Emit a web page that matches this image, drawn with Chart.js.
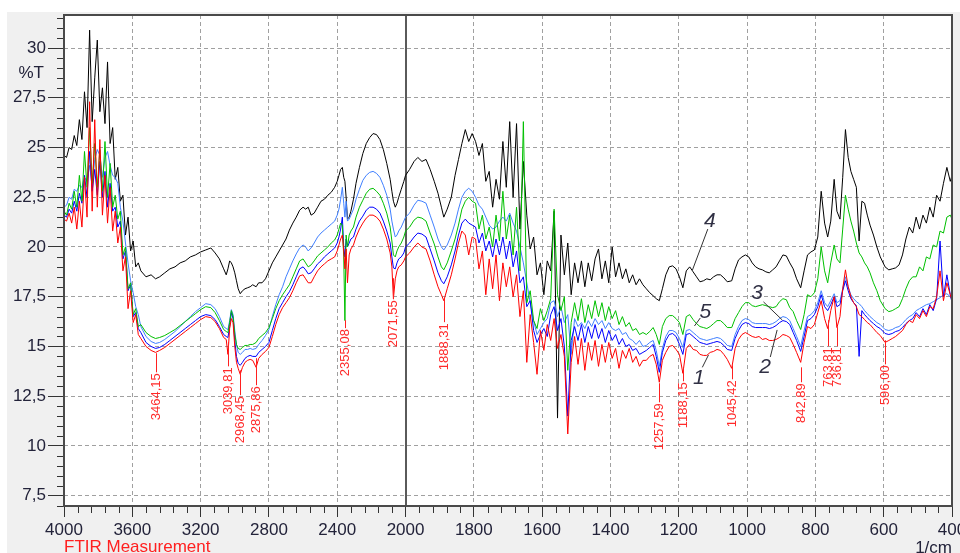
<!DOCTYPE html>
<html>
<head>
<meta charset="utf-8">
<script src="https://cdn.jsdelivr.net/npm/chart.js@4.4.0/dist/chart.umd.min.js"></script>
<style>
  html, body { margin: 0; padding: 0; background: #fff; }
  #wrap { width: 960px; height: 553px; }
</style>
</head>
<body>
<div id="wrap"><canvas id="ftir" width="960" height="553"></canvas></div>
<script>
// wavenumbers, 1/cm (shared by all five spectra)
const wavenumbers = [
  // 4000 - 3565
  4000,3985,3970,3955,3940,3925,3910,3895,3880,3865,
  3850,3835,3820,3805,3790,3775,3760,3745,3730,3715,
  3700,3685,3670,3655,3640,3625,3610,3595,3580,3565,
  // 3550 - 2000
  3550,3520,3490,3464,3440,3410,3380,3350,3320,3290,
  3260,3230,3200,3170,3140,3115,3090,3065,3050,3040,
  3030,3020,3010,3000,2990,2980,2968,2955,2940,2925,
  2910,2895,2875,2860,2840,2820,2800,2780,2760,2740,
  2720,2700,2680,2660,2640,2620,2600,2585,2570,2553,
  2535,2515,2495,2475,2455,2435,2415,2400,2390,2380,
  2370,2362,2355,2348,2340,2330,2320,2305,2290,2270,
  2250,2230,2210,2190,2170,2150,2130,2110,2090,2080,
  2071,2060,2050,2040,2025,2010,2000,
  // 1988 - 1805
  1988,1975,1964,1952,1940,1928,1916,1905,1895,1888,
  1878,1866,1855,1845,1835,1825,1815,1805,
  // 1795 - 1305
  1795,1785,1775,1765,1755,1745,1735,1725,1715,1705,
  1695,1685,1675,1665,1655,1645,1635,1625,1615,1605,
  1595,1585,1575,1565,1555,1545,1535,1525,1515,1505,
  1495,1485,1475,1465,1455,1445,1435,1425,1415,1405,
  1395,1385,1375,1365,1355,1345,1335,1325,1315,1305,
  // 1295 - 400
  1295,1285,1275,1266,1257,1248,1238,1228,1218,1208,
  1198,1188,1178,1168,1158,1148,1138,1128,1118,1108,
  1098,1088,1078,1068,1058,1045,1035,1025,1015,1005,
  995,985,975,965,955,945,935,925,915,905,
  895,885,875,865,855,843,833,823,813,803,
  793,783,773,764,755,745,737,728,720,712,
  704,696,688,680,672,664,656,648,640,630,
  620,610,596,585,575,565,555,545,535,525,
  515,505,495,485,475,465,455,445,435,425,
  415,405,400
];

// spectrum 1 (red), %T
const red1 = [
  21.4,21.3,21.7,21.2,22.0,20.9,22.3,21.0,23.5,21.5,
  27.3,21.8,26.4,22.0,25.4,21.6,23.6,21.2,23.0,20.8,
  21.8,20.2,21.0,18.8,19.5,16.9,17.8,16.2,16.6,15.6,

  15.4,15.0,14.8,14.7,14.8,14.95,15.15,15.35,15.55,15.75,
  15.95,16.15,16.35,16.5,16.45,16.25,15.9,15.45,15.35,14.6,
  15.9,16.4,16.2,15.0,14.2,13.9,13.6,13.95,14.2,14.3,
  14.35,14.3,13.95,14.4,14.6,14.75,14.95,15.5,16.1,16.6,
  16.95,17.2,17.45,17.8,18.2,18.55,18.6,18.4,18.2,18.2,
  18.5,18.8,19.0,19.15,19.3,19.4,19.5,19.8,20.1,20.4,
  20.6,19.8,18.9,19.9,18.2,19.6,19.9,20.1,20.5,20.9,
  21.2,21.45,21.6,21.6,21.5,21.3,20.9,20.4,19.7,19.0,
  17.4,18.4,18.8,19.0,19.1,19.3,19.5,

  19.7,20.0,20.2,20.0,19.9,19.3,18.6,18.0,17.6,17.3,
  17.9,18.6,19.4,20.2,20.8,20.6,19.6,20.5,

  20.4,18.9,19.8,17.6,19.4,17.9,19.6,17.3,19.2,18.0,
  19.0,17.5,18.6,16.5,17.8,14.2,16.6,15.2,13.6,15.8,
  14.8,16.1,15.3,16.4,14.9,15.6,14.5,10.6,14.2,15.5,
  14.1,15.4,13.8,15.2,14.3,15.3,14.0,15.1,14.2,15.2,
  14.4,14.9,13.9,14.8,14.4,14.9,14.2,14.5,14.0,14.3,

  14.3,14.5,14.6,14.1,13.2,14.3,14.7,15.0,15.05,14.85,
  14.6,13.65,14.9,15.1,14.85,14.8,14.6,14.55,14.55,14.7,
  14.75,14.85,14.8,14.6,14.35,13.9,14.9,15.35,15.6,15.7,
  15.6,15.5,15.45,15.5,15.35,15.4,15.3,15.3,15.35,15.45,
  15.6,15.55,15.45,15.1,14.7,14.2,15.2,16.0,15.9,16.1,
  16.7,17.3,16.4,15.9,16.8,17.5,15.95,16.5,17.9,18.85,
  18.0,17.5,17.2,17.0,16.6,16.5,16.35,16.2,16.1,15.9,
  15.7,15.55,15.2,15.3,15.4,15.5,15.65,15.8,16.1,16.3,
  16.2,16.6,16.4,16.8,16.5,17.0,16.9,17.5,18.8,17.3,
  18.2,17.6,17.3
];

// spectrum 2 (blue)
const blue2 = [
  21.6,21.5,21.9,21.7,22.3,21.8,22.7,22.2,23.6,22.5,
  24.8,22.8,23.9,22.6,24.3,22.5,23.8,22.0,23.2,21.8,
  22.0,21.0,21.3,19.4,19.8,17.8,18.1,16.5,16.7,15.9,

  15.7,15.2,15.0,14.9,14.95,15.1,15.3,15.5,15.7,15.9,
  16.1,16.3,16.5,16.6,16.55,16.35,16.0,15.6,15.5,15.45,
  16.0,16.7,16.4,15.3,14.5,14.15,14.05,14.2,14.4,14.5,
  14.55,14.5,14.5,14.7,14.85,15.0,15.2,15.8,16.4,16.9,
  17.2,17.5,17.75,18.1,18.5,18.9,19.0,18.85,18.65,18.7,
  18.9,19.15,19.3,19.5,19.65,19.8,19.95,20.2,20.5,20.9,
  21.5,20.0,19.5,20.4,20.0,20.2,20.4,20.5,20.9,21.3,
  21.55,21.85,22.0,22.0,21.9,21.7,21.3,20.8,20.2,19.5,
  18.95,18.9,19.2,19.4,19.5,19.7,20.0,

  20.2,20.5,20.7,20.65,20.5,19.9,19.3,18.7,18.3,18.15,
  18.5,19.1,19.8,20.6,21.2,21.4,21.2,21.1,

  21.0,20.2,20.7,19.8,20.3,19.5,20.4,19.6,20.5,19.4,
  20.3,19.0,19.8,18.2,18.5,17.0,17.3,15.8,15.2,15.6,
  15.9,15.5,16.6,17.0,15.8,16.4,15.0,11.5,15.3,16.0,
  15.3,16.1,15.2,16.0,15.4,16.1,15.4,15.9,15.2,15.8,
  15.3,15.6,15.1,15.4,15.0,15.1,14.8,14.9,14.6,14.7,

  14.8,14.95,15.1,14.5,13.7,14.7,15.3,15.6,15.65,15.5,
  15.1,14.6,15.6,15.65,15.5,15.35,15.2,15.15,15.1,15.15,
  15.2,15.25,15.2,15.05,14.85,14.8,15.4,15.8,16.1,16.2,
  16.15,16.0,15.95,15.95,15.95,15.95,15.9,15.95,16.05,16.2,
  16.3,16.25,16.1,15.7,15.3,14.75,15.5,16.3,16.4,16.6,
  17.0,17.6,17.0,16.8,17.1,17.5,17.0,17.1,17.8,18.3,
  17.8,17.4,17.2,17.05,14.5,16.8,16.6,16.45,16.3,16.15,
  16.0,15.9,15.65,15.6,15.65,15.75,15.8,15.95,16.15,16.3,
  16.4,16.7,16.5,16.9,16.6,17.1,16.8,17.4,20.3,17.5,
  18.6,17.6,17.2
];

// spectrum 3 (light blue)
const lightBlue3 = [
  22.0,22.1,22.5,22.4,22.9,22.8,23.1,23.0,23.5,23.3,
  24.1,23.0,24.4,24.9,24.6,23.5,24.5,24.8,24.1,23.6,
  23.5,23.2,22.0,21.3,20.2,19.2,18.3,17.7,17.0,16.6,

  16.0,15.5,15.25,15.15,15.2,15.35,15.55,15.75,16.0,16.25,
  16.5,16.75,16.95,17.15,17.1,16.9,16.5,16.0,15.9,15.85,
  16.3,16.85,16.6,15.8,15.1,14.7,14.6,14.7,14.85,14.85,
  14.9,14.85,14.9,15.1,15.3,15.55,15.85,16.5,17.1,17.6,
  18.0,18.5,18.9,19.3,19.65,19.95,20.1,20.0,19.8,19.95,
  20.2,20.5,20.7,20.85,21.0,21.15,21.3,21.6,21.9,22.4,
  23.0,22.2,21.5,22.3,21.3,21.4,21.6,21.9,22.4,22.9,
  23.35,23.6,23.75,23.8,23.7,23.5,23.1,22.6,21.9,21.3,
  20.9,20.5,20.6,20.8,21.0,21.3,21.5,

  21.7,22.1,22.35,22.3,22.2,21.6,21.0,20.4,20.0,19.85,
  20.1,20.6,21.2,21.9,22.5,22.8,22.95,22.8,

  22.5,22.1,21.9,21.5,21.1,20.9,21.0,21.3,21.5,21.3,
  21.7,21.2,20.8,20.0,19.2,18.2,17.2,16.3,15.6,15.9,
  16.2,16.4,17.2,17.3,16.5,17.0,16.2,16.6,14.6,16.4,
  16.0,16.2,15.9,16.3,16.0,16.4,16.1,16.3,15.9,16.2,
  15.9,15.8,15.9,15.6,15.7,15.4,15.3,15.1,15.3,15.0,

  15.05,15.2,15.3,14.8,14.0,14.9,15.5,15.8,15.8,15.7,
  15.4,14.95,15.8,15.85,15.7,15.55,15.4,15.35,15.3,15.35,
  15.4,15.45,15.4,15.25,15.05,15.0,15.6,16.0,16.3,16.4,
  16.35,16.2,16.15,16.15,16.15,16.15,16.1,16.15,16.25,16.4,
  16.5,16.45,16.3,15.9,15.5,15.0,15.8,16.5,16.6,16.8,
  17.2,17.8,17.2,17.0,17.3,17.65,17.2,17.3,17.9,18.5,
  18.0,17.6,17.4,17.25,17.15,17.0,16.8,16.65,16.5,16.35,
  16.2,16.1,15.85,15.8,15.85,15.95,16.0,16.15,16.35,16.5,
  16.6,16.8,16.9,17.0,17.1,17.15,17.25,17.35,17.45,17.6,
  17.65,17.5,17.4
];

// spectrum 4 (black)
const black4 = [
  24.6,24.5,25.0,24.9,25.6,25.1,26.4,25.4,27.8,26.0,
  30.9,26.3,28.5,30.4,26.8,28.0,26.2,29.3,25.2,26.0,
  23.4,24.0,22.3,22.6,20.6,21.5,19.8,20.3,19.0,19.2,

  18.8,18.5,18.6,18.4,18.5,18.7,18.9,19.0,19.2,19.3,
  19.5,19.6,19.75,19.85,19.95,19.7,19.4,18.9,18.6,18.9,
  19.3,19.2,19.0,18.7,18.3,17.9,17.65,17.8,17.9,17.95,
  18.0,18.1,18.0,18.2,18.2,18.4,18.8,19.2,19.5,19.8,
  20.1,20.4,20.85,21.2,21.5,21.85,22.0,21.9,22.0,21.6,
  21.7,22.0,22.3,22.4,22.6,22.75,23.0,23.3,23.6,23.9,
  24.0,23.5,23.3,22.5,21.4,21.5,21.8,22.4,23.2,24.0,
  24.7,25.2,25.5,25.7,25.65,25.4,24.9,24.2,23.4,22.8,
  22.3,22.0,22.2,22.5,22.9,23.3,23.6,

  23.9,24.3,24.5,24.3,24.4,23.9,23.3,22.7,22.0,21.5,
  21.9,22.5,23.6,24.4,25.2,25.9,25.3,25.7,

  25.3,24.6,25.2,23.3,23.8,22.0,23.4,22.4,25.3,23.0,
  26.3,22.5,26.2,20.9,24.3,21.6,19.9,20.5,18.6,19.2,
  17.6,19.3,18.8,21.8,11.4,20.6,18.6,20.2,17.6,19.2,
  18.2,19.3,18.0,19.2,18.3,19.4,19.9,18.4,19.3,18.2,
  20.0,18.5,19.2,18.4,18.9,18.2,18.6,18.1,18.4,18.1,

  17.9,17.7,17.55,17.4,17.3,17.9,18.6,19.0,19.05,18.9,
  18.5,17.95,18.8,19.0,18.75,18.5,18.25,18.3,18.4,18.35,
  18.5,18.6,18.6,18.45,18.25,18.3,18.9,19.35,19.5,19.6,
  19.5,19.2,19.0,18.9,18.85,18.75,18.7,18.85,19.0,19.3,
  19.6,19.55,19.2,18.9,18.4,17.95,18.8,19.6,19.75,19.85,
  20.5,22.8,21.2,20.5,21.3,23.4,21.8,21.4,23.5,25.9,
  24.5,23.8,23.4,23.0,20.3,22.3,22.2,21.6,21.1,20.6,
  20.0,19.5,19.0,18.85,18.9,18.95,19.1,19.6,20.4,21.0,
  20.7,21.5,20.9,21.6,21.2,22.0,21.5,22.6,22.3,23.2,
  24.0,23.3,23.6
];

// spectrum 5 (green)
const green5 = [
  21.8,21.6,22.2,21.9,22.8,22.0,23.6,22.3,24.8,23.0,
  26.0,23.2,25.2,23.0,24.9,22.8,25.3,22.5,24.2,22.0,
  22.6,21.4,21.8,19.6,20.0,17.9,18.2,16.6,16.9,16.0,

  16.1,15.7,15.5,15.4,15.45,15.55,15.7,15.85,16.05,16.25,
  16.45,16.65,16.85,17.0,16.95,16.7,16.3,15.85,15.75,15.7,
  16.2,16.8,16.5,15.6,15.1,14.9,14.85,14.95,15.05,15.05,
  15.1,15.1,15.2,15.4,15.55,15.7,15.95,16.4,16.9,17.3,
  17.6,17.85,18.1,18.5,18.9,19.3,19.4,19.2,19.0,19.1,
  19.3,19.55,19.7,19.85,20.0,20.2,20.35,20.6,20.9,21.2,
  21.1,19.5,16.3,20.6,20.0,20.6,20.8,21.0,21.5,22.0,
  22.35,22.7,22.9,22.95,22.8,22.6,22.2,21.7,21.0,20.3,
  19.6,19.5,19.8,20.0,20.2,20.5,20.8,

  21.0,21.35,21.5,21.45,21.3,20.7,20.15,19.5,19.0,18.85,
  19.2,19.8,20.4,21.1,21.9,22.3,22.5,22.3,

  22.2,20.9,21.6,20.4,21.0,20.0,21.6,20.3,22.8,20.4,
  21.6,19.6,22.0,18.8,26.3,17.2,17.8,16.3,15.9,16.9,
  16.3,16.8,17.4,21.9,17.6,16.8,17.5,13.8,16.2,17.2,
  16.3,17.4,16.2,17.1,16.4,17.3,16.5,17.2,16.3,17.0,
  16.4,16.8,16.1,16.5,16.0,16.2,15.8,15.9,15.6,15.7,

  15.6,15.75,15.95,15.6,15.1,16.0,16.4,16.55,16.55,16.4,
  16.2,15.6,16.5,16.6,16.35,16.15,16.0,15.95,15.9,16.0,
  16.15,16.3,16.3,16.15,15.95,15.95,16.4,16.7,17.0,17.2,
  17.2,17.05,17.0,17.05,17.1,17.05,17.0,16.95,17.0,17.25,
  17.4,17.35,16.95,16.75,16.3,15.85,16.6,17.6,17.5,17.7,
  18.4,20.0,18.8,18.2,19.2,20.1,19.4,19.2,20.9,22.6,
  21.9,21.3,20.8,20.2,19.7,19.5,19.2,19.0,18.7,18.2,
  17.8,17.3,16.9,16.75,16.8,16.9,17.0,17.4,17.9,18.3,
  18.5,18.5,19.0,18.8,19.5,19.4,20.1,20.0,20.8,20.7,
  21.5,21.6,21.4
];

// axis ticks
const xTickLabels = [4000, 3600, 3200, 2800, 2400, 2000, 1800, 1600, 1400, 1200, 1000, 800, 600, 400];
const yTicks = [7.5, 10, 12.5, 15, 17.5, 20, 22.5, 25, 27.5, 30];

// marked peaks (red labels)
const peakWn = [3464.15, 3039.81, 2968.45, 2875.86, 2355.08, 2071.55, 1888.31, 1257.59, 1188.15, 1045.42, 842.89, 763.81, 736.81, 596.00];
const peakLabels = ['3464,15', '3039,81', '2968,45', '2875,86', '2355,08', '2071,55', '1888,31', '1257,59', '1188,15', '1045,42', '842,89', '763,81', '736,81', '596,00'];
const peakLineTop = [14.66, 15.21, 13.8, 14.41, 16.32, 18.43, 17.4, 13.15, 13.95, 14.05, 13.95, 16.32, 15.97, 15.31];
const peakTextTop = [13.65, 13.95, 12.5, 13.0, 15.87, 17.32, 16.17, 12.14, 13.2, 13.3, 13.15, 14.96, 14.96, 14.05];

// curve numbers with their leader lines, in (1/cm, %T)
const curveNames = ['1', '2', '3', '4', '5'];
const curveNameAt = [[1141, 13.4], [947, 13.98], [971, 17.67], [1109, 21.31], [1122, 16.73]];
const curveLeaders = [
  [[1131, 13.95], [1113, 14.57]],
  [[932, 14.47], [912, 15.83]],
  [[952, 17.24], [897, 16.33]],
  [[1115, 20.9], [1160, 18.84]],
  [[1137, 16.43], [1154, 16.03]]
];

// the x axis is compressed 2:1 above 2000 1/cm, like the instrument software
function toAxis(wn) { return wn > 2000 ? 2000 + (wn - 2000) / 2 : wn; }
function fromAxis(t) { return t > 2000 ? 2000 + (t - 2000) * 2 : t; }

[red1, blue2, lightBlue3, black4, green5].forEach(function (s, i) {
  if (s.length !== wavenumbers.length) console.error('series ' + i + ' has ' + s.length + ' values, expected ' + wavenumbers.length);
});

function toPoints(values) {
  return wavenumbers.map(function (w, i) { return { x: toAxis(w), y: values[i] }; });
}

const FONT = "'Liberation Sans', Arial, sans-serif";
const AXIS_TEXT = '#23233a';

const decor = {
  id: 'decor',
  beforeDraw(chart) {
    const ctx = chart.ctx, a = chart.chartArea;
    ctx.save();
    ctx.fillStyle = '#ffffff';
    ctx.fillRect(0, 0, chart.width, chart.height);
    ctx.fillStyle = '#f0f0f0';
    ctx.fillRect(7, 12, chart.width - 7, chart.height - 12);
    ctx.fillStyle = '#ffffff';
    ctx.fillRect(a.left, a.top, a.right - a.left, a.bottom - a.top);
    ctx.restore();
  },
  beforeDatasetsDraw(chart) {
    const ctx = chart.ctx, a = chart.chartArea;
    const x = Math.round(chart.scales.x.getPixelForValue(toAxis(2000)));
    ctx.save();
    ctx.strokeStyle = '#5a5a5a';
    ctx.lineWidth = 2;
    ctx.beginPath();
    ctx.moveTo(x, a.top);
    ctx.lineTo(x, a.bottom);
    ctx.stroke();
    ctx.restore();
  },
  afterDraw(chart) {
    const ctx = chart.ctx, a = chart.chartArea;
    const xs = chart.scales.x, ys = chart.scales.y;
    ctx.save();

    // minor ticks
    ctx.strokeStyle = '#333333';
    ctx.lineWidth = 1;
    ctx.beginPath();
    for (let t = 440; t < 3000; t += 40) {
      if (t % 200 === 0) continue;
      const px = Math.round(xs.getPixelForValue(t)) + 0.5;
      ctx.moveTo(px, a.bottom);
      ctx.lineTo(px, a.bottom + 7);
    }
    for (let v = 7; v <= 31.5; v += 0.5) {
      if (Math.abs(v / 2.5 - Math.round(v / 2.5)) < 1e-6) continue;
      const py = Math.round(ys.getPixelForValue(v)) + 0.5;
      ctx.moveTo(a.left - 7, py);
      ctx.lineTo(a.left, py);
    }
    ctx.stroke();

    // frame
    ctx.strokeStyle = '#4a4a4a';
    ctx.lineWidth = 2;
    ctx.strokeRect(a.left, a.top, a.right - a.left, a.bottom - a.top);

    // peak markers
    ctx.strokeStyle = '#ff2020';
    ctx.fillStyle = '#ff2a2a';
    ctx.lineWidth = 1;
    ctx.font = '13px ' + FONT;
    peakWn.forEach(function (w, i) {
      const px = Math.round(xs.getPixelForValue(toAxis(w))) + 0.5;
      const y0 = ys.getPixelForValue(peakLineTop[i]);
      const y1 = ys.getPixelForValue(peakTextTop[i]);
      ctx.beginPath();
      ctx.moveTo(px, y0);
      ctx.lineTo(px, y1 - 1);
      ctx.stroke();
      ctx.save();
      ctx.translate(px, y1);
      ctx.rotate(-Math.PI / 2);
      ctx.textAlign = 'right';
      ctx.textBaseline = 'middle';
      ctx.fillText(peakLabels[i], 0, 0);
      ctx.restore();
    });

    // curve numbers
    ctx.strokeStyle = '#333333';
    ctx.fillStyle = '#303044';
    ctx.font = 'italic 21px ' + FONT;
    ctx.textAlign = 'center';
    ctx.textBaseline = 'middle';
    curveNames.forEach(function (n, i) {
      const l = curveLeaders[i];
      ctx.beginPath();
      ctx.moveTo(xs.getPixelForValue(toAxis(l[0][0])), ys.getPixelForValue(l[0][1]));
      ctx.lineTo(xs.getPixelForValue(toAxis(l[1][0])), ys.getPixelForValue(l[1][1]));
      ctx.stroke();
      ctx.fillText(n, xs.getPixelForValue(toAxis(curveNameAt[i][0])), ys.getPixelForValue(curveNameAt[i][1]));
    });

    // axis captions
    ctx.font = '17px ' + FONT;
    ctx.fillStyle = AXIS_TEXT;
    ctx.textAlign = 'right';
    ctx.textBaseline = 'middle';
    ctx.fillText('%T', a.left - 20, ys.getPixelForValue(28.75));
    ctx.textBaseline = 'alphabetic';
    ctx.fillText('1/cm', a.right, chart.height);
    ctx.fillStyle = '#ff2020';
    ctx.textAlign = 'left';
    ctx.fillText('FTIR Measurement', a.left, chart.height - 1);

    ctx.restore();
  }
};

const ctx = document.getElementById('ftir').getContext('2d');
const chart = new Chart(ctx, {
  type: 'line',
  data: {
    datasets: [
      { label: '4', data: toPoints(black4), borderColor: '#000000', order: 5 },
      { label: '3', data: toPoints(lightBlue3), borderColor: '#4080ff', order: 4 },
      { label: '2', data: toPoints(blue2), borderColor: '#0000ff', order: 3 },
      { label: '5', data: toPoints(green5), borderColor: '#00c000', order: 2 },
      { label: '1', data: toPoints(red1), borderColor: '#ff0000', order: 1 }
    ].map(function (d) {
      d.borderWidth = 1;
      d.pointRadius = 0;
      d.fill = false;
      d.tension = 0;
      return d;
    })
  },
  options: {
    responsive: false,
    animation: false,
    parsing: false,
    devicePixelRatio: 1,
    layout: { padding: { left: 0, top: 15, right: 8, bottom: 0 } },
    plugins: { legend: { display: false }, tooltip: { enabled: false } },
    scales: {
      x: {
        type: 'linear',
        reverse: true,
        min: 400,
        max: 3000,
        afterBuildTicks: function (axis) {
          axis.ticks = xTickLabels.map(function (w) { return { value: toAxis(w) }; });
        },
        afterFit: function (axis) {
          axis.height = 47;
          axis.paddingLeft = 0;
          axis.paddingRight = 0;
        },
        ticks: {
          autoSkip: false,
          maxRotation: 0,
          padding: 3,
          color: AXIS_TEXT,
          font: { family: FONT, size: 17 },
          callback: function (v) { return String(fromAxis(v)); }
        },
        grid: { color: '#a0a0a0', lineWidth: 1, tickLength: 11, tickColor: '#333333' },
        border: { display: false, dash: [4, 3] }
      },
      y: {
        type: 'linear',
        min: 6.98,
        max: 31.66,
        afterBuildTicks: function (axis) {
          axis.ticks = yTicks.map(function (v) { return { value: v }; });
        },
        afterFit: function (axis) {
          axis.width = 64;
          axis.paddingTop = 0;
          axis.paddingBottom = 0;
        },
        ticks: {
          padding: 2,
          color: AXIS_TEXT,
          font: { family: FONT, size: 17 },
          callback: function (v) { return String(v).replace('.', ','); }
        },
        grid: { color: '#a0a0a0', lineWidth: 1, tickLength: 16, tickColor: '#333333' },
        border: { display: false, dash: [4, 3] }
      }
    }
  },
  plugins: [decor]
});
</script>
</body>
</html>
